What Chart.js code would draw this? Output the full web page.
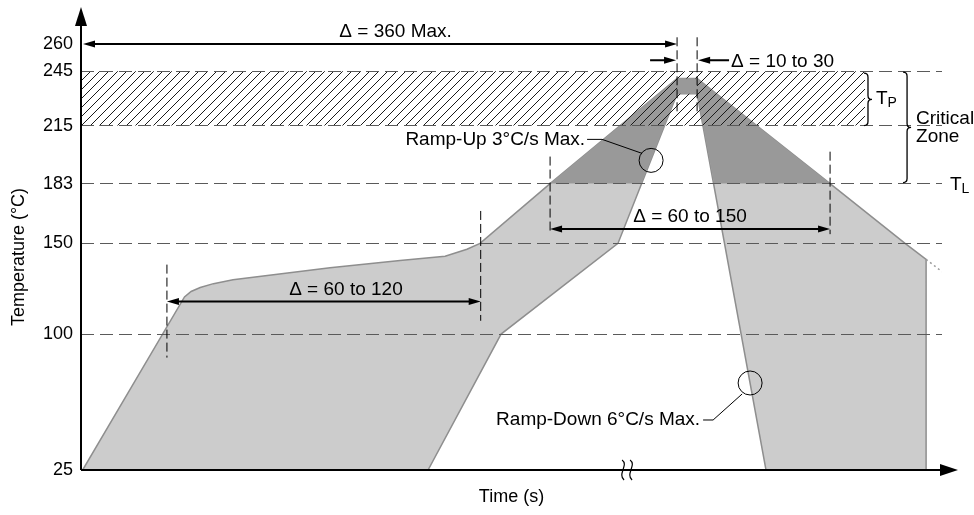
<!DOCTYPE html>
<html>
<head>
<meta charset="utf-8">
<script src="https://cdn.jsdelivr.net/npm/chart.js@4.4.0/dist/chart.umd.min.js"></script>
<style>
    html, body { margin: 0; padding: 0; background: #fff; }
</style>
</head>
<body>
<canvas id="reflowChart" width="974" height="515"></canvas>
<script>
"use strict";

const FONT = '"Liberation Sans", Arial, sans-serif';
const LABEL_SIZE = 19;

// temperature ticks (°C)
const tempTicks = [25, 100, 150, 183, 215, 245, 260];

// profile envelope (time s / temp °C), walked round the outline
const envelopeTime = [1, 62.5, 66.5, 72, 80, 91.8, 150.4, 192.7, 219.9, 233.1, 241, 283.3, 360, 372.1, 452.4, 497.7, 510.4, 510.4, 413.7, 372.1, 360, 324.3, 253.7, 209.6, 1];
const envelopeTemp = [25, 120.5, 123.5, 125.7, 127.8, 129.9, 136.6, 140.6, 142.9, 146.8, 150, 183, 241, 241, 183, 150, 141.2, 25, 25, 232.5, 232.5, 150, 100, 25, 25];

// part of the envelope above liquidus (183 °C)
const zoneTime = [283.3, 360, 372.1, 452.4, 382.3, 372.1, 360, 338.5, 283.3];
const zoneTemp = [183, 241, 241, 183, 183, 232.5, 232.5, 183, 183];

// peak plateau
const peakTime = [360, 372.1, 372.1, 360, 360];
const peakTemp = [241, 241, 232.5, 232.5, 241];

// cool-down continuation (dotted)
const tailTime = [510.4, 520];
const tailTemp = [141.2, 134.4];

// peak band T_P
const bandTime = [0, 473.5];
const bandTop = 245;
const bandBottom = 215;

function toPoints(xs, ys) {
    return xs.map((x, i) => ({ x: x, y: ys[i] }));
}

function hatchPattern() {
    const s = 9;
    const c = document.createElement('canvas');
    c.width = s; c.height = s;
    const g = c.getContext('2d');
    g.strokeStyle = '#1a1a1a';
    g.lineWidth = 1;
    g.beginPath();
    g.moveTo(0, s); g.lineTo(s, 0);
    g.moveTo(-1, 1); g.lineTo(1, -1);
    g.moveTo(s - 1, s + 1); g.lineTo(s + 1, s - 1);
    g.stroke();
    return g.createPattern(c, 'repeat');
}

// annotation layout, in time / temperature units
const guideLines = [
    { time: 51.9, from: 87, to: 138.3 },
    { time: 241.4, from: 107.3, to: 167.9 },
    { time: 283.3, from: 155.1, to: 197.9 },
    { time: 452.4, from: 155.1, to: 200.6 },
    { time: 360, from: 222.4, to: 263.7 },
    { time: 372.1, from: 222.4, to: 263.7 }
];

const dimensions = [
    { from: 0, to: 360, temp: 260, label: 'Δ = 360 Max.', labelTime: 190 },
    { from: 51.9, to: 241.4, temp: 118, label: 'Δ = 60 to 120', labelTime: 160 },
    { from: 283.3, to: 452.4, temp: 157.9, label: 'Δ = 60 to 150', labelTime: 367.8 }
];

function arrowHead(ctx, x, y, dir) {
    ctx.beginPath();
    ctx.moveTo(x, y);
    ctx.lineTo(x - dir * 12, y - 3.5);
    ctx.lineTo(x - dir * 12, y + 3.5);
    ctx.closePath();
    ctx.fill();
}

function brace(ctx, x, yTop, yBot) {
    const mid = (yTop + yBot) / 2, r = 4;
    ctx.beginPath();
    ctx.moveTo(x - 4, yTop);
    ctx.quadraticCurveTo(x, yTop, x, yTop + r);
    ctx.lineTo(x, mid - r);
    ctx.quadraticCurveTo(x, mid, x + 4, mid);
    ctx.quadraticCurveTo(x, mid, x, mid + r);
    ctx.lineTo(x, yBot - r);
    ctx.quadraticCurveTo(x, yBot, x - 4, yBot);
    ctx.stroke();
}

function subText(ctx, main, sub, x, y) {
    ctx.textAlign = 'left';
    ctx.textBaseline = 'middle';
    ctx.font = LABEL_SIZE + 'px ' + FONT;
    ctx.fillText(main, x, y);
    const w = ctx.measureText(main).width;
    ctx.font = '14px ' + FONT;
    ctx.fillText(sub, x + w, y + 5);
}

function callout(ctx, cx, cy, text, textEnd, leader) {
    ctx.beginPath();
    ctx.arc(cx, cy, 12, 0, Math.PI * 2);
    ctx.stroke();
    ctx.beginPath();
    ctx.moveTo(cx + leader[0][0], cy + leader[0][1]);
    for (let i = 1; i < leader.length; i++) {
        ctx.lineTo(cx + leader[i][0], cy + leader[i][1]);
    }
    ctx.stroke();
    ctx.font = LABEL_SIZE + 'px ' + FONT;
    ctx.textAlign = 'right';
    ctx.textBaseline = 'middle';
    ctx.fillText(text, cx + textEnd[0], cy + textEnd[1]);
}

const annotations = {
    id: 'annotations',
    afterDraw(chart) {
        const { ctx, chartArea } = chart;
        const xs = chart.scales.x, ys = chart.scales.y;
        const px = v => xs.getPixelForValue(v);
        const py = v => ys.getPixelForValue(v);
        const left = chartArea.left, bottom = chartArea.bottom;

        ctx.save();
        ctx.fillStyle = '#000';
        ctx.strokeStyle = '#000';

        // axes with arrows
        ctx.lineWidth = 2;
        ctx.beginPath();
        ctx.moveTo(left, bottom);
        ctx.lineTo(left, 20);
        ctx.moveTo(left, bottom);
        ctx.lineTo(946, bottom);
        ctx.stroke();
        ctx.beginPath();
        ctx.moveTo(left, 7); ctx.lineTo(left - 6, 26); ctx.lineTo(left + 6, 26);
        ctx.closePath(); ctx.fill();
        ctx.beginPath();
        ctx.moveTo(958, bottom); ctx.lineTo(940, bottom - 6); ctx.lineTo(940, bottom + 6);
        ctx.closePath(); ctx.fill();

        // axis break
        const bx = px(329.8);
        ctx.lineWidth = 1.2;
        [-4, 4].forEach(dx => {
            ctx.beginPath();
            ctx.moveTo(bx + dx - 1, bottom - 10);
            ctx.bezierCurveTo(bx + dx + 6, bottom - 5, bx + dx - 6, bottom + 4, bx + dx + 1, bottom + 10);
            ctx.stroke();
        });

        // extension lines
        ctx.lineWidth = 1;
        ctx.setLineDash([9, 4]);
        guideLines.forEach(g => {
            ctx.beginPath();
            ctx.moveTo(px(g.time), py(g.to));
            ctx.lineTo(px(g.time), py(g.from));
            ctx.stroke();
        });
        ctx.setLineDash([]);

        // dimension arrows
        ctx.font = LABEL_SIZE + 'px ' + FONT;
        ctx.textAlign = 'center';
        ctx.textBaseline = 'middle';
        dimensions.forEach(d => {
            const x1 = px(d.from) + (d.from === 0 ? 2 : 0), x2 = px(d.to), y = py(d.temp);
            ctx.lineWidth = 2;
            ctx.beginPath();
            ctx.moveTo(x1 + 6, y);
            ctx.lineTo(x2 - 6, y);
            ctx.stroke();
            arrowHead(ctx, x1, y, -1);
            arrowHead(ctx, x2, y, 1);
            ctx.fillText(d.label, px(d.labelTime), y - 12);
        });

        // dwell at peak: inward arrows
        const ya = py(251);
        ctx.lineWidth = 2;
        ctx.beginPath();
        ctx.moveTo(px(343.7), ya); ctx.lineTo(px(360) - 6, ya);
        ctx.moveTo(px(391.4), ya); ctx.lineTo(px(372.1) + 6, ya);
        ctx.stroke();
        arrowHead(ctx, px(360) - 1, ya, 1);
        arrowHead(ctx, px(372.1) + 1, ya, -1);
        ctx.textAlign = 'left';
        ctx.fillText('Δ = 10 to 30', px(391.4) + 2, ya + 1);

        // braces and zone labels
        ctx.lineWidth = 1.3;
        brace(ctx, px(475.3), py(bandTop) + 2, py(bandBottom));
        brace(ctx, px(498.9), py(bandTop) + 1, py(183) - 1);
        subText(ctx, 'T', 'P', px(475.3) + 8, py(230));
        ctx.font = LABEL_SIZE + 'px ' + FONT;
        ctx.textAlign = 'left';
        ctx.fillText('Critical', px(498.9) + 9, py(214) - 9);
        ctx.fillText('Zone', px(498.9) + 9, py(214) + 9);
        subText(ctx, 'T', 'L', 950, py(183) + 1);

        // ramp callouts
        ctx.lineWidth = 1;
        callout(ctx, px(344.3), py(195.8), 'Ramp-Up 3°C/s Max.', [-66, -21],
            [[-64, -21], [-49, -21], [-9, -7]]);
        callout(ctx, px(404.1), py(73), 'Ramp-Down 6°C/s Max.', [-50, 37],
            [[-47, 37], [-37, 37], [-8, 11]]);

        ctx.restore();
    }
};

const canvas = document.getElementById('reflowChart');

new Chart(canvas, {
    type: 'scatter',
    data: {
        datasets: [
            {
                label: 'Profile envelope',
                data: toPoints(envelopeTime, envelopeTemp),
                showLine: true,
                fill: 'shape',
                backgroundColor: '#cccccc',
                borderColor: '#8e8e8e',
                borderWidth: 1.5,
                order: 5
            },
            {
                label: 'Above liquidus',
                data: toPoints(zoneTime, zoneTemp),
                showLine: true,
                fill: 'shape',
                backgroundColor: '#999999',
                borderWidth: 0,
                order: 4
            },
            {
                label: 'Peak band',
                data: toPoints(bandTime, [bandTop, bandTop]),
                showLine: true,
                fill: { value: bandBottom },
                backgroundColor: hatchPattern(),
                borderWidth: 0,
                order: 3
            },
            {
                label: 'Peak',
                data: toPoints(peakTime, peakTemp),
                showLine: true,
                fill: 'shape',
                backgroundColor: '#999999',
                borderWidth: 0,
                order: 2
            },
            {
                label: 'Cool-down',
                data: toPoints(tailTime, tailTemp),
                showLine: true,
                fill: false,
                borderColor: '#9a9a9a',
                borderWidth: 1.5,
                borderDash: [2, 3],
                order: 1
            }
        ]
    },
    options: {
        responsive: false,
        animation: false,
        layout: { padding: { top: 44, right: 32, left: 0, bottom: 0 } },
        elements: { point: { radius: 0, hoverRadius: 0 }, line: { tension: 0 } },
        plugins: {
            legend: { display: false },
            tooltip: { enabled: false }
        },
        scales: {
            x: {
                type: 'linear',
                min: 0,
                max: 520,
                ticks: { display: false },
                grid: { display: false },
                border: { display: false },
                title: {
                    display: true,
                    text: 'Time (s)',
                    color: '#000',
                    font: { family: FONT, size: 18 },
                    padding: { top: 0, bottom: 7 }
                },
                afterFit: s => { s.height = 45; }
            },
            y: {
                type: 'linear',
                min: 25,
                max: 260,
                afterBuildTicks: s => { s.ticks = tempTicks.map(v => ({ value: v })); },
                ticks: {
                    color: '#000',
                    font: { family: FONT, size: 18 },
                    padding: 8,
                    autoSkip: false
                },
                grid: {
                    drawTicks: false,
                    z: 1,
                    lineWidth: 1,
                    color: c => (c.tick && (c.tick.value === 25 || c.tick.value === 260)) ? 'rgba(0,0,0,0)' : '#5a5a5a'
                },
                border: { display: false, dash: [13, 6] },
                title: {
                    display: true,
                    text: 'Temperature (°C)',
                    color: '#000',
                    font: { family: FONT, size: 18 },
                    padding: { top: 8, bottom: 0 }
                },
                afterFit: s => { s.width = 81; }
            }
        }
    },
    plugins: [annotations]
});
</script>
</body>
</html>
